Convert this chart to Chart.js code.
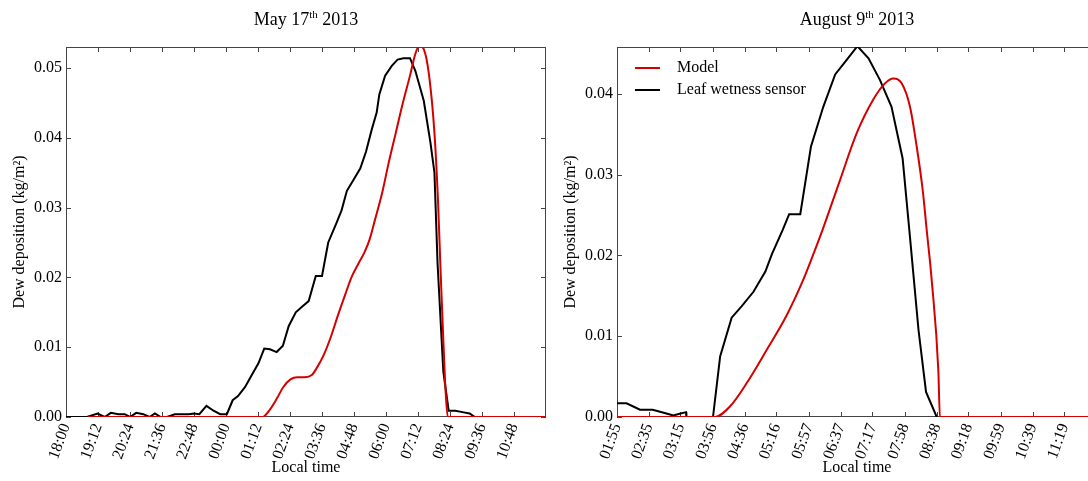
<!DOCTYPE html>
<html>
<head>
<meta charset="utf-8">
<script src="https://cdn.jsdelivr.net/npm/chart.js@4/dist/chart.umd.min.js"></script>
<style>
  html, body { margin: 0; padding: 0; background: #fff; overflow: hidden; }
  #wrap { position: relative; width: 1088px; height: 481px; overflow: hidden; }
  #wrap canvas { position: absolute; top: 0; }
</style>
</head>
<body>
<div id="wrap">
  <canvas id="may" width="560" height="481" style="left:0"></canvas>
  <canvas id="aug" width="560" height="481" style="left:551px"></canvas>
</div>
<script>
// shared labels
const seriesNames = ['Model', 'Leaf wetness sensor'];
const xTitle = 'Local time';
const yTitle = 'Dew deposition (kg/m²)';

// May 17th 2013 -- times are minutes after 18:00
const mayTitle = ['May 17', 'th', ' 2013'];
const mayTicks = ['18:00', '19:12', '20:24', '21:36', '22:48', '00:00', '01:12', '02:24',
                  '03:36', '04:48', '06:00', '07:12', '08:24', '09:36', '10:48'];
const mayEnd = '12:00';
const mayYTicks = [0, 0.01, 0.02, 0.03, 0.04, 0.05];
const mayYMax = 0.053;
const maySensorT = [0, 47, 71, 87, 101, 118, 132, 144, 158, 174, 188, 200, 213, 227, 245,
                    276, 288, 300, 316, 332, 347, 362, 375, 387, 403, 418, 433, 446, 459, 474,
                    488, 501, 517, 531, 546, 562, 576, 590, 608, 620, 632, 647, 662, 675, 688,
                    699, 705, 718, 733, 746, 759, 774, 786, 805, 820, 829, 836, 849, 861, 876,
                    892, 908, 920];
const maySensor = [0, 0, 0.0005, 0, 0.0006, 0.0004, 0.0004, 0, 0.0006, 0.0004, 0, 0.0005, 0, 0, 0.0004,
                   0.0004, 0.0005, 0.0004, 0.0016, 0.0009, 0.0004, 0.0004, 0.0024, 0.003, 0.0043, 0.006, 0.0077, 0.0098, 0.0097, 0.0093,
                   0.0102, 0.013, 0.015, 0.0158, 0.0166, 0.0202, 0.0202, 0.025, 0.0277, 0.0296, 0.0324, 0.034, 0.0356, 0.038, 0.0412,
                   0.0436, 0.0462, 0.0489, 0.0503, 0.0512, 0.0514, 0.0514, 0.0496, 0.0453, 0.0393, 0.035, 0.022, 0.0065, 0.0009, 0.0009,
                   0.0007, 0.0005, 0];
const mayModelT = [50, 442, 458, 474, 489, 505, 521, 537, 553, 564, 580, 596, 612, 628, 643,
                   659, 671, 683, 695, 711, 726, 742, 758, 774, 786, 795, 805, 817, 829, 837,
                   843, 849, 854, 859, 1080];
const mayModel = [0, 0, 0.001, 0.0026, 0.0043, 0.0054, 0.0057, 0.0057, 0.006, 0.007, 0.0089, 0.0115, 0.0146, 0.0175, 0.0201,
                  0.0221, 0.0235, 0.0254, 0.0282, 0.032, 0.0364, 0.0407, 0.045, 0.0489, 0.052, 0.0532, 0.0527, 0.0489, 0.0407, 0.031,
                  0.0206, 0.011, 0.0038, 0, 0];

// August 9th 2013 -- times are minutes after 01:55
const augTitle = ['August 9', 'th', ' 2013'];
const augTicks = ['01:55', '02:35', '03:15', '03:56', '04:36', '05:16', '05:57', '06:37',
                  '07:17', '07:58', '08:38', '09:18', '09:59', '10:39', '11:19'];
const augEnd = '12:00';
const augYTicks = [0, 0.01, 0.02, 0.03, 0.04];
const augYMax = 0.0458;
const augSensorT = [0, 12, 29, 45, 60, 71, 79, 87, 87.5, 121, 130, 144.5, 157, 172, 187,
                    195, 209, 217, 231, 244.5, 260, 275, 289.5, 303, 317, 331.5, 346, 360, 368.4, 380,
                    389.5, 403];
const augSensor = [0.0017, 0.0017, 0.0009, 0.0009, 0.0005, 0.0002, 0.0004, 0.0006, 0, 0, 0.0075, 0.0123, 0.0137, 0.0155, 0.018,
                   0.0201, 0.0232, 0.0251, 0.0251, 0.0335, 0.0384, 0.0424, 0.0442, 0.0459, 0.0444, 0.0417, 0.0384, 0.032, 0.0232, 0.0108,
                   0.0031, 0];
const augModelT = [0, 123.5, 142.4, 163.5, 188.6, 213.9, 234.8, 249.6, 259.2, 281, 302, 323,
                   337.8, 348.3, 358.8, 369.3, 377.7, 385.3, 390.3, 396.6, 405, 407, 605];
const augModel = [0, 0, 0.0013, 0.0042, 0.0083, 0.0126, 0.017, 0.0207, 0.0232, 0.0293, 0.0351, 0.0393,
                  0.0413, 0.0419, 0.0413, 0.0384, 0.0335, 0.0281, 0.0232, 0.017, 0.0058, 0, 0];

const FONT = '"Liberation Serif", "Times New Roman", serif';
Chart.defaults.font.family = FONT;
Chart.defaults.color = '#000';

function toMinutes(label, start) {
    const [h, m] = label.split(':').map(Number);
    let d = h * 60 + m - start;
    if (d < 0) {
        d += 1440;
    }
    return d;
}

function points(ts, vs) {
    return ts.map((t, i) => ({x: t, y: vs[i]}));
}

// box around the plot with matplotlib-style inward ticks on all four sides
const frame = {
    id: 'frame',
    beforeDatasetsDraw(chart) {
        const {ctx, chartArea: a, scales: {x, y}} = chart;
        ctx.save();
        ctx.strokeStyle = '#444';
        ctx.lineWidth = 1;
        ctx.strokeRect(a.left + 0.5, a.top + 0.5, a.right - a.left - 1, a.bottom - a.top - 1);
        ctx.beginPath();
        x.ticks.forEach((t, i) => {
            const px = Math.round(x.getPixelForTick(i)) + 0.5;
            ctx.moveTo(px, a.bottom);
            ctx.lineTo(px, a.bottom - 5);
            ctx.moveTo(px, a.top);
            ctx.lineTo(px, a.top + 5);
        });
        y.ticks.forEach((t, i) => {
            const py = Math.round(y.getPixelForTick(i)) + 0.5;
            ctx.moveTo(a.left, py);
            ctx.lineTo(a.left + 5, py);
            ctx.moveTo(a.right, py);
            ctx.lineTo(a.right - 5, py);
        });
        ctx.stroke();
        ctx.restore();
    },
};

// title with a superscript ordinal
const headline = {
    id: 'headline',
    afterDraw(chart, args, opts) {
        const {ctx, chartArea: a} = chart;
        const [pre, sup, post] = opts.parts;
        const big = '18px ' + FONT;
        const small = '11px ' + FONT;
        ctx.save();
        ctx.fillStyle = '#000';
        ctx.textBaseline = 'alphabetic';
        ctx.textAlign = 'left';
        ctx.font = big;
        const w1 = ctx.measureText(pre).width;
        const w3 = ctx.measureText(post).width;
        ctx.font = small;
        const w2 = ctx.measureText(sup).width;
        let x = (a.left + a.right) / 2 - (w1 + w2 + w3) / 2;
        const y = 25;
        ctx.font = big;
        ctx.fillText(pre, x, y);
        x += w1;
        ctx.font = small;
        ctx.fillText(sup, x, y - 7);
        x += w2;
        ctx.font = big;
        ctx.fillText(post, x, y);
        ctx.restore();
    },
};

// legend drawn inside the plot, upper left
const insetLegend = {
    id: 'insetLegend',
    afterDraw(chart, args, opts) {
        if (!opts.show) {
            return;
        }
        const {ctx, chartArea: a} = chart;
        ctx.save();
        ctx.font = '16px ' + FONT;
        ctx.textBaseline = 'middle';
        ctx.textAlign = 'left';
        chart.data.datasets.forEach((ds, i) => {
            const y = a.top + 21 + i * 22;
            ctx.strokeStyle = ds.borderColor;
            ctx.lineWidth = 2;
            ctx.beginPath();
            ctx.moveTo(a.left + 18, y);
            ctx.lineTo(a.left + 43, y);
            ctx.stroke();
            ctx.fillStyle = '#000';
            ctx.fillText(ds.label, a.left + 60, y);
        });
        ctx.restore();
    },
};

function makeChart(id, cfg) {
    const start = toMinutes(cfg.ticks[0], 0);
    const tickPos = cfg.ticks.map((l) => toMinutes(l, start));
    return new Chart(document.getElementById(id), {
        type: 'line',
        data: {
            datasets: [
                {
                    label: seriesNames[0],
                    data: points(cfg.modelT, cfg.model),
                    borderColor: '#d40000',
                    borderWidth: 2,
                    pointRadius: 0,
                    cubicInterpolationMode: 'monotone',
                },
                {
                    label: seriesNames[1],
                    data: points(cfg.sensorT, cfg.sensor),
                    borderColor: '#000000',
                    borderWidth: 2,
                    pointRadius: 0,
                    tension: 0,
                },
            ],
        },
        options: {
            responsive: false,
            animation: false,
            events: [],
            layout: {padding: {top: 47, right: 14, bottom: 0, left: 0}},
            plugins: {
                legend: {display: false},
                tooltip: {enabled: false},
                headline: {parts: cfg.title},
                insetLegend: {show: cfg.legend},
            },
            scales: {
                x: {
                    type: 'linear',
                    min: 0,
                    max: toMinutes(cfg.end, start),
                    afterBuildTicks: (s) => {
                        s.ticks = tickPos.map((v) => ({value: v}));
                    },
                    afterFit: (s) => {
                        s.height = 64;
                    },
                    grid: {display: false, drawTicks: false},
                    border: {display: false},
                    ticks: {
                        font: {size: 16},
                        minRotation: 70,
                        maxRotation: 70,
                        autoSkip: false,
                        padding: 4,
                        callback: (v, i) => cfg.ticks[i],
                    },
                    title: {display: true, text: xTitle, font: {size: 16}, padding: {top: 0, bottom: 4}},
                },
                y: {
                    type: 'linear',
                    min: 0,
                    max: cfg.yMax,
                    afterBuildTicks: (s) => {
                        s.ticks = cfg.yTicks.map((v) => ({value: v}));
                    },
                    afterFit: (s) => {
                        s.width = 66;
                    },
                    grid: {display: false, drawTicks: false},
                    border: {display: false},
                    ticks: {
                        font: {size: 16},
                        padding: 4,
                        callback: (v) => v.toFixed(2),
                    },
                    title: {display: true, text: yTitle, font: {size: 16}, padding: {top: 10, bottom: 0}},
                },
            },
        },
        plugins: [frame, headline, insetLegend],
    });
}

makeChart('may', {
    title: mayTitle, ticks: mayTicks, end: mayEnd, yTicks: mayYTicks, yMax: mayYMax,
    sensorT: maySensorT, sensor: maySensor, modelT: mayModelT, model: mayModel, legend: false,
});
makeChart('aug', {
    title: augTitle, ticks: augTicks, end: augEnd, yTicks: augYTicks, yMax: augYMax,
    sensorT: augSensorT, sensor: augSensor, modelT: augModelT, model: augModel, legend: true,
});
</script>
</body>
</html>
